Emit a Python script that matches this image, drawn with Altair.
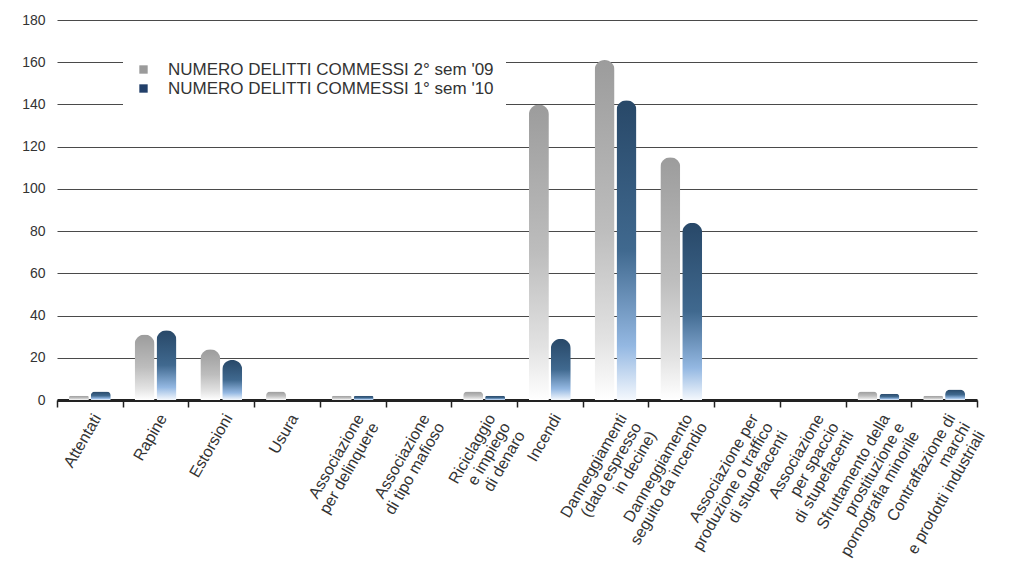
import altair as alt
import pandas as pd

categories = [
    "Attentati",
    "Rapine",
    "Estorsioni",
    "Usura",
    "Associazione|per delinquere",
    "Associazione|di tipo mafioso",
    "Riciclaggio|e impiego|di denaro",
    "Incendi",
    "Danneggiamenti|(dato espresso|in decine)",
    "Danneggiamento|seguito da incendio",
    "Associazione per|produzione o traffico|di stupefacenti",
    "Associazione|per spaccio|di stupefacenti",
    "Sfruttamento della|prostituzione e|pornografia minorile",
    "Contraffazione di|marchi|e prodotti industriali",
]
series_names = [
    "NUMERO DELITTI COMMESSI 2° sem '09",
    "NUMERO DELITTI COMMESSI 1° sem '10",
]
values_sem2_09 = [2, 31, 24, 4, 2, 0, 4, 140, 161, 115, 0, 0, 4, 2]
values_sem1_10 = [4, 33, 19, 0, 2, 0, 2, 29, 142, 84, 0, 0, 3, 5]
y_ticks = [0, 20, 40, 60, 80, 100, 120, 140, 160, 180]

rows = []
for c, v in zip(categories, values_sem2_09):
    rows.append({"cat": c, "serie": series_names[0], "val": v})
for c, v in zip(categories, values_sem1_10):
    rows.append({"cat": c, "serie": series_names[1], "val": v})
df = pd.DataFrame(rows)

FONT = "Liberation Sans"

x_enc = alt.X(
    "cat:N",
    sort=categories,
    scale=alt.Scale(paddingInner=0, paddingOuter=0),
    axis=alt.Axis(
        title=None,
        labelAngle=-60,
        labelAlign="right",
        labelBaseline="top",
        labelExpr="split(datum.label, '|')",
        labelFontSize=16,
        labelFont=FONT,
        labelColor="#333333",
        labelPadding=4,
        labelLimit=400,
        labelLineHeight=17,
        tickBand="extent",
        tickSize=7,
        tickColor="#222222",
        tickWidth=1.5,
        domainColor="#222222",
        domainWidth=3,
        grid=False,
    ),
)
xo_enc = alt.XOffset(
    "serie:N", sort=series_names, scale=alt.Scale(paddingInner=0, paddingOuter=0.5)
)
y_enc = alt.Y(
    "val:Q",
    scale=alt.Scale(domain=[0, 180], nice=False),
    axis=alt.Axis(
        title=None,
        values=y_ticks,
        grid=True,
        gridColor="#4a4a4a",
        gridWidth=1,
        domain=False,
        ticks=False,
        labelFontSize=14,
        labelFont=FONT,
        labelColor="#333333",
        labelPadding=12,
        minExtent=49,
    ),
)

grad_gray = alt.Gradient(
    gradient="linear",
    x1=0, x2=0, y1=0, y2=1,
    stops=[
        alt.GradientStop(color="#9c9c9c", offset=0),
        alt.GradientStop(color="#bdbdbd", offset=0.5),
        alt.GradientStop(color="#e2e2e2", offset=0.82),
        alt.GradientStop(color="#ffffff", offset=1),
    ],
)
grad_blue = alt.Gradient(
    gradient="linear",
    x1=0, x2=0, y1=0, y2=1,
    stops=[
        alt.GradientStop(color="#284868", offset=0),
        alt.GradientStop(color="#40698f", offset=0.5),
        alt.GradientStop(color="#94b8e2", offset=0.82),
        alt.GradientStop(color="#f4f8fd", offset=1),
    ],
)

base = alt.Chart(df)

bars_gray = base.transform_filter(
    alt.datum.serie == series_names[0]
).mark_bar(
    size=20, cornerRadiusTopLeft=10, cornerRadiusTopRight=10, fill=grad_gray
).encode(x=x_enc, xOffset=xo_enc, y=y_enc)

bars_blue = base.transform_filter(
    alt.datum.serie == series_names[1]
).mark_bar(
    size=20, cornerRadiusTopLeft=10, cornerRadiusTopRight=10, fill=grad_blue
).encode(x=x_enc, xOffset=xo_enc, y=y_enc)

legend_layer = base.mark_square(size=70, opacity=0).encode(
    x=x_enc,
    xOffset=xo_enc,
    y=alt.Y("zero:Q"),
    color=alt.Color(
        "serie:N",
        sort=series_names,
        scale=alt.Scale(domain=series_names, range=["#9b9b9b", "#22406a"]),
        legend=alt.Legend(
            title=None,
            orient="none",
            legendX=66,
            legendY=29,
            padding=12,
            fillColor="white",
            symbolType="square",
            symbolSize=70,
            symbolOpacity=1,
            symbolStrokeWidth=0,
            labelFontSize=17,
            labelFont=FONT,
            labelColor="#333333",
            labelOffset=16,
            labelLimit=500,
            rowPadding=1,
        ),
    ),
).transform_calculate(zero="0")

chart = alt.layer(bars_gray, bars_blue, legend_layer).properties(
    width=995,
    height=566,
    padding={"left": 0, "top": 5, "right": 18, "bottom": 12},
    autosize=alt.AutoSizeParams(type="fit", contains="padding"),
    background="white",
).configure_view(stroke=None)

chart.save("out.html", embed_options={"renderer": "svg", "actions": False})
